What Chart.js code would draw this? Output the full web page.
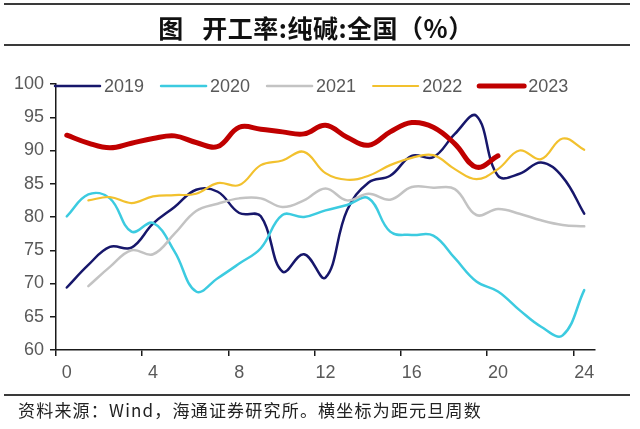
<!DOCTYPE html>
<html>
<head>
<meta charset="utf-8">
<script src="https://cdn.jsdelivr.net/npm/chart.js@4"></script>
<style>
    html, body { margin: 0; padding: 0; background: #fff; }
    body { width: 640px; height: 429px; position: relative; overflow: hidden; }
    #chartBox { position: absolute; left: 0; top: 0; width: 640px; height: 429px; }
    .rule { position: absolute; left: 4px; width: 626px; height: 2px; background: #3a3a3a; }
    #title {
        position: absolute; left: 0; top: 12px; width: 632px; text-align: center;
        font: bold 25px "Noto Sans CJK SC", sans-serif; letter-spacing: 0.5px;
        color: #111; line-height: 30px;
    }
    #source {
        position: absolute; left: 18px; top: 399px;
        font: 17px "Noto Sans CJK SC", sans-serif; letter-spacing: 1.2px;
        color: #222; line-height: 22px;
    }
</style>
</head>
<body>
<div id="chartBox"><canvas id="rateChart" width="640" height="429"></canvas></div>
<div class="rule" style="top:3px"></div>
<div id="title">图&nbsp;&nbsp;&nbsp;开工率:纯碱:全国（%）</div>
<div class="rule" style="top:44px"></div>
<div class="rule" style="top:394px"></div>
<div id="source">资料来源：Wind，海通证券研究所。横坐标为距元旦周数</div>
<script>
// weeks since new year
const weeks = Array.from({ length: 25 }, (_, i) => String(i));
const yTicks = [60, 65, 70, 75, 80, 85, 90, 95, 100];

const y2019 = [69.4, 72.8, 75.5, 75.4, 79.0, 81.5, 84.1, 83.8, 80.6, 80.1, 71.8, 74.4, 70.9, 81.0, 85.2, 86.2, 89.2, 89.0, 92.5, 95.2, 86.2, 86.5, 88.2, 86.0, 80.5];
const y2020 = [80.1, 83.4, 82.8, 77.8, 79.1, 74.8, 68.8, 70.8, 73.0, 75.3, 80.3, 80.0, 81.0, 81.8, 82.8, 77.8, 77.3, 77.2, 73.8, 70.3, 68.8, 66.0, 63.5, 62.2, 69.0];
const y2021 = [null, 69.6, 72.5, 75.0, 74.4, 77.5, 80.9, 82.0, 82.8, 82.8, 81.5, 82.5, 84.3, 82.5, 83.5, 82.6, 84.5, 84.4, 84.2, 80.3, 81.2, 80.5, 79.5, 78.8, 78.6];
const y2022 = [null, 82.5, 83.0, 82.1, 83.1, 83.3, 83.5, 85.1, 84.8, 87.8, 88.5, 89.8, 86.6, 85.6, 86.2, 87.8, 88.9, 89.3, 87.2, 85.7, 87.2, 90.0, 88.7, 91.8, 90.1];
const y2023 = [92.3, 91.1, 90.4, 91.1, 91.8, 92.2, 91.2, 90.6, 93.5, 93.2, 92.8, 92.5, 93.8, 92.0, 90.8, 92.8, 94.2, 93.5, 91.0, 87.5, 89.2];

const AXIS = '#1a1a1a';
const TEXT = '#595959';
const FONT = { family: '"Liberation Sans", Arial, sans-serif', size: 18 };

function series(label, data, color, width, order) {
    return {
        label, data, borderColor: color, backgroundColor: color, borderWidth: width,
        pointRadius: 0, tension: 0.4, fill: false, order,
        borderCapStyle: 'round', borderJoinStyle: 'round',
    };
}

// Legend sits inside the plot, so draw it ourselves from the dataset options.
const lineLegend = {
    id: 'lineLegend',
    afterDraw(chart) {
        const c = chart.ctx;
        let x = 55;
        const y = 86;
        c.save();
        c.font = `${FONT.size}px ${FONT.family}`;
        c.textBaseline = 'middle';
        chart.data.datasets.forEach((ds) => {
            c.strokeStyle = ds.borderColor;
            c.lineWidth = ds.borderWidth;
            c.lineCap = 'round';
            c.beginPath();
            c.moveTo(x, y);
            c.lineTo(x + 45, y);
            c.stroke();
            x += 49;
            c.fillStyle = TEXT;
            c.fillText(ds.label, x, y + 1);
            x += c.measureText(ds.label).width + 17;
        });
        c.restore();
    },
};

new Chart(document.getElementById('rateChart'), {
    type: 'line',
    data: {
        labels: weeks,
        datasets: [
            series('2019', y2019, '#17176b', 2.5, 5),
            series('2020', y2020, '#3ccbe0', 2.5, 4),
            series('2021', y2021, '#c3c3c3', 2.5, 3),
            series('2022', y2022, '#f2c12e', 2.2, 2),
            series('2023', y2023, '#c00000', 5, 1),
        ],
    },
    options: {
        responsive: false, animation: false,
        layout: { padding: { left: 0, top: 84, right: 45, bottom: 0 } },
        plugins: { legend: { display: false }, tooltip: { enabled: false } },
        scales: {
            x: {
                type: 'category', offset: true,
                grid: {
                    offset: true, drawOnChartArea: false, tickLength: 6, lineWidth: 1.5,
                    tickColor: (ctx) => (ctx.index % 4 === 0 ? AXIS : 'rgba(0,0,0,0)'),
                },
                border: { color: AXIS, width: 1.5 },
                ticks: {
                    autoSkip: false, maxRotation: 0, padding: 6, color: TEXT, font: FONT,
                    callback: (v, i) => (i % 4 === 0 ? weeks[i] : ''),
                },
                afterFit: (s) => { s.height = 79; },
            },
            y: {
                min: 60, max: 100,
                afterBuildTicks: (s) => { s.ticks = yTicks.map((value) => ({ value })); },
                grid: { drawOnChartArea: false, tickLength: 6, tickColor: AXIS, lineWidth: 1.5 },
                border: { color: AXIS, width: 1.5 },
                ticks: { padding: 6, color: TEXT, font: FONT },
                afterFit: (s) => { s.width = 56; },
            },
        },
    },
    plugins: [lineLegend],
});
</script>
</body>
</html>
